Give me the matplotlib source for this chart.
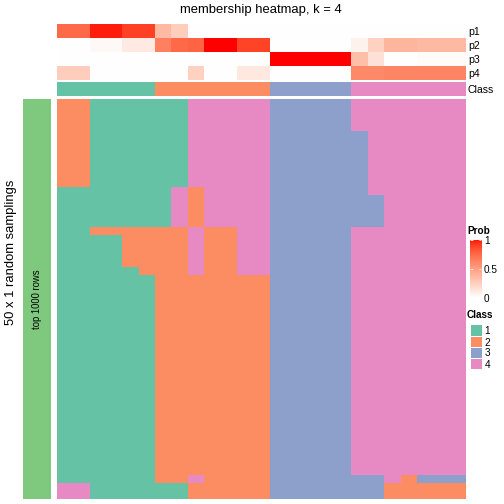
import numpy as np
import matplotlib
matplotlib.use("Agg")
import matplotlib.pyplot as plt
from matplotlib.colors import ListedColormap

plt.rcParams['font.family'] = ['Liberation Sans', 'DejaVu Sans']

# membership probabilities per sample (25 samples)
p1 = [0.74, 0.74, 0.97, 0.97, 0.89, 0.89, 0.36, 0.26, 0, 0, 0, 0, 0,
      0, 0, 0, 0, 0, 0, 0, 0, 0, 0, 0, 0]
p2 = [0, 0, 0.03, 0.03, 0.11, 0.11, 0.64, 0.74, 0.76, 1, 1, 0.88, 0.88,
      0, 0, 0, 0, 0, 0.07, 0.24, 0.38, 0.38, 0.36, 0.36, 0.36]
p3 = [0, 0, 0, 0, 0, 0, 0, 0, 0, 0, 0, 0, 0,
      1, 1, 1, 1, 1, 0.33, 0.16, 0, 0, 0.02, 0.02, 0.02]
p4 = [0.26, 0.26, 0, 0, 0, 0, 0, 0, 0.24, 0, 0, 0.12, 0.12,
      0, 0, 0, 0, 0, 0.6, 0.6, 0.62, 0.62, 0.62, 0.62, 0.62]
consensus = [1, 1, 1, 1, 1, 1, 2, 2, 2, 2, 2, 2, 2,
             3, 3, 3, 3, 3, 4, 4, 4, 4, 4, 4, 4]
prob_names = ["p1", "p2", "p3", "p4"]

# class of each of the 50 samplings, per sample column, as (class, n rows) runs
sampling_runs = [
    [(2, 11), (1, 37), (4, 2)],
    [(2, 11), (1, 37), (4, 2)],
    [(1, 16), (2, 1), (1, 33)],
    [(1, 16), (2, 1), (1, 33)],
    [(1, 16), (2, 5), (1, 29)],
    [(1, 16), (2, 6), (1, 28)],
    [(1, 16), (2, 32), (1, 2)],
    [(1, 11), (4, 5), (2, 32), (1, 2)],
    [(4, 11), (2, 5), (4, 6), (2, 25), (4, 1), (2, 2)],
    [(4, 16), (2, 34)],
    [(4, 16), (2, 34)],
    [(4, 22), (2, 28)],
    [(4, 22), (2, 28)],
    [(3, 50)],
    [(3, 50)],
    [(3, 50)],
    [(3, 50)],
    [(3, 50)],
    [(4, 4), (3, 12), (4, 31), (3, 3)],
    [(4, 12), (3, 4), (4, 31), (3, 3)],
    [(4, 48), (2, 2)],
    [(4, 47), (2, 3)],
    [(4, 47), (3, 1), (2, 2)],
    [(4, 47), (3, 1), (2, 2)],
    [(4, 47), (3, 1), (2, 2)],
]
class_labels = ["1", "2", "3", "4"]
class_colors = ["#66C2A5", "#FC8D62", "#8DA0CB", "#E78AC3"]
prob_ticks = [0, 0.5, 1]


def white_red(t):
    # white -> red, interpolated in CIE Lab (like circlize::colorRamp2)
    t = np.asarray(t, dtype=float)
    L = 100 - (100 - 53.24) * t
    a = 80.09 * t
    b = 67.20 * t
    fy = (L + 16) / 116
    fx = fy + a / 500
    fz = fy - b / 200

    def finv(f):
        return np.where(f ** 3 > 0.008856, f ** 3, (f - 16 / 116) / 7.787)
    X = 0.95047 * finv(fx)
    Y = finv(fy)
    Z = 1.08883 * finv(fz)
    r = 3.2406 * X - 1.5372 * Y - 0.4986 * Z
    g = -0.9689 * X + 1.8758 * Y + 0.0415 * Z
    bb = 0.0557 * X - 0.2040 * Y + 1.0570 * Z
    rgb = np.stack([r, g, bb], axis=-1).clip(0, 1)
    rgb = np.where(rgb > 0.0031308, 1.055 * rgb ** (1 / 2.4) - 0.055, 12.92 * rgb)
    return rgb.clip(0, 1)


prob_cmap = ListedColormap(white_red(np.linspace(0, 1, 256)))
class_cmap = ListedColormap(class_colors)

W = H = 504
fig = plt.figure(figsize=(7, 7), dpi=72)


def px_axes(x0, y0, x1, y1):
    ax = fig.add_axes([x0 / W, 1 - y1 / H, (x1 - x0) / W, (y1 - y0) / H])
    ax.set_xticks([])
    ax.set_yticks([])
    for s in ax.spines.values():
        s.set_visible(False)
    return ax


# top annotation: probabilities
prob_mat = np.array([p1, p2, p3, p4])
ax_p = px_axes(56.7, 24, 465, 80)
ax_p.imshow(prob_mat, cmap=prob_cmap, vmin=0, vmax=1, aspect='auto', interpolation='nearest')
ax_p.yaxis.tick_right()
ax_p.set_yticks(range(4))
ax_p.set_yticklabels(prob_names, fontsize=10.5)
ax_p.tick_params(axis='y', length=0, pad=3)

# consensus class row
ax_c = px_axes(56.7, 82, 465, 96)
ax_c.imshow(np.array([consensus]), cmap=class_cmap, vmin=0.5, vmax=4.5, aspect='auto', interpolation='nearest')
ax_c.yaxis.tick_right()
ax_c.set_yticks([0])
ax_c.set_yticklabels(["Class"], fontsize=10.5)
ax_c.tick_params(axis='y', length=0, pad=3)

# main heatmap of the 50 samplings
main = np.zeros((50, len(sampling_runs)), dtype=int)
for j, runs in enumerate(sampling_runs):
    main[:, j] = np.concatenate([[c] * n for c, n in runs])
ax_m = px_axes(56.7, 99, 465, 499)
ax_m.imshow(main, cmap=class_cmap, vmin=0.5, vmax=4.5, aspect='auto', interpolation='nearest')

# left row-slice bar
ax_l = px_axes(22.7, 99, 50.7, 499)
ax_l.set_facecolor("#7FC97F")
ax_l.text(0.5, 0.5, "top 1000 rows", rotation=90, ha='center', va='center',
          fontsize=9.5, transform=ax_l.transAxes)

fig.text(11 / W, 1 - 252 / H, "50 x 1 random samplings", rotation=90,
         ha='center', va='center', fontsize=13)
fig.text(261 / W, 1 - 10 / H, "membership heatmap, k = 4",
         ha='center', va='center', fontsize=13)

# Prob colour bar
fig.text(467 / W, 1 - 231 / H, "Prob", ha='left', va='center', fontsize=10, fontweight='bold')
ax_cb = px_axes(469.5, 239.5, 481, 298)
ax_cb.imshow(np.linspace(1, 0, 200)[:, None], cmap=prob_cmap, vmin=0, vmax=1,
             aspect='auto', extent=[0, 1, 0, 1])
ax_cb.set_yticks(prob_ticks)
ax_cb.set_yticklabels(["0", "0.5", "1"], fontsize=10)
ax_cb.tick_params(axis='y', left=True, right=True, labelleft=False, labelright=True,
                  direction='in', color='white', length=2.5, width=0.8, pad=3)

# Class legend
fig.text(467 / W, 1 - 315 / H, "Class", ha='left', va='center', fontsize=10, fontweight='bold')
ax_cl = px_axes(470.5, 325, 481.5, 369)
ax_cl.imshow(np.arange(1, 5)[:, None], cmap=class_cmap, vmin=0.5, vmax=4.5, aspect='auto')
for k in range(1, 4):
    ax_cl.axhline(k - 0.5, color='white', lw=1)
ax_cl.yaxis.tick_right()
ax_cl.set_yticks(range(4))
ax_cl.set_yticklabels(class_labels, fontsize=10)
ax_cl.tick_params(axis='y', length=0, pad=3)

fig.savefig("out.png", dpi=72)
